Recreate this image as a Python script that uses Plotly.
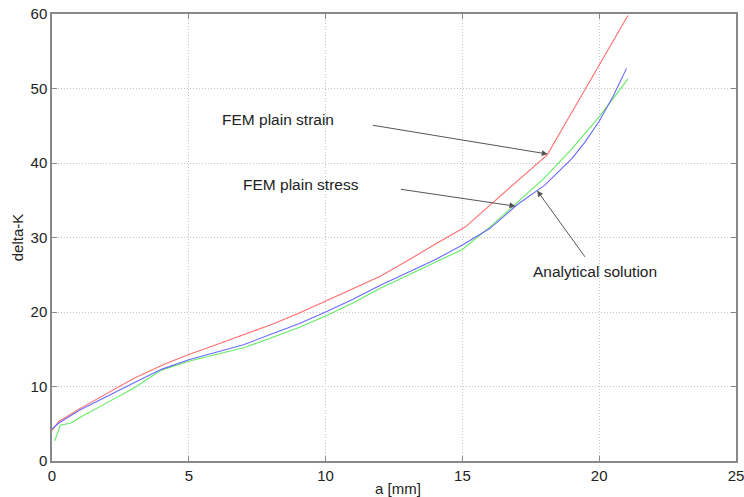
import plotly.graph_objects as go

# FEM plain strain (red)
strain_x = [0, 0.25, 1, 2, 3, 4.1, 5, 6, 7, 8, 9, 10, 11, 12, 13, 14, 15.1, 16, 17, 18.1, 19, 20, 21.05]
strain_y = [4.1, 5.3, 7.0, 9.1, 11.1, 13.0, 14.3, 15.6, 16.9, 18.3, 19.8, 21.5, 23.1, 24.8, 26.9, 29.1, 31.4, 34.3, 37.5, 41.1, 46.8, 53.1, 59.8]

# Analytical solution (blue)
anal_x = [0, 0.25, 1, 2, 3, 4, 5, 6, 7, 8, 9, 10, 11, 12, 13, 14, 15, 16, 17, 18, 19, 19.5, 20, 20.5, 21]
anal_y = [4.3, 5.1, 6.8, 8.7, 10.5, 12.3, 13.6, 14.6, 15.6, 17.0, 18.4, 20.0, 21.7, 23.6, 25.3, 27.0, 29.0, 31.2, 34.4, 37.0, 40.6, 42.9, 45.6, 48.9, 52.7]

# FEM plain stress (green)
stress_x = [0.1, 0.3, 0.7, 1, 2, 3, 4, 5, 6, 7, 8, 9, 10, 11, 12, 13, 14, 15, 16, 17, 18, 19, 19.5, 20, 20.5, 21.05]
stress_y = [2.7, 4.8, 5.1, 5.8, 7.8, 9.8, 12.2, 13.4, 14.3, 15.2, 16.5, 17.9, 19.45, 21.2, 23.2, 24.9, 26.6, 28.4, 31.4, 34.7, 38.0, 41.9, 44.0, 46.2, 48.6, 51.3]

x_ticks = [0, 5, 10, 15, 20, 25]
y_ticks = [0, 10, 20, 30, 40, 50, 60]

labels = [
    ("FEM plain strain", 8.26, 45.8),
    ("FEM plain stress", 9.10, 37.06),
    ("Analytical solution", 19.85, 25.4),
]
# arrows: (tail_x, tail_y, head_x, head_y)
arrows = [
    (11.67, 45.1, 18.12, 41.2),
    (12.7, 36.5, 16.94, 34.2),
    (19.52, 27.2, 17.73, 36.3),
]

fig = go.Figure()
fig.add_trace(go.Scatter(x=strain_x, y=strain_y, mode="lines",
                         line=dict(color="rgb(255,110,110)", width=1.1), name="FEM plain strain"))
fig.add_trace(go.Scatter(x=stress_x, y=stress_y, mode="lines",
                         line=dict(color="rgb(100,235,100)", width=1.1), name="FEM plain stress"))
fig.add_trace(go.Scatter(x=anal_x, y=anal_y, mode="lines",
                         line=dict(color="rgb(105,105,255)", width=1.1), name="Analytical solution"))

font_family = "Liberation Sans, Arial, Helvetica, sans-serif"

for txt, lx, ly in labels:
    fig.add_annotation(x=lx, y=ly, xref="x", yref="y", text=txt, showarrow=False,
                       font=dict(family=font_family, size=15.5, color="#222"))
for tx, ty, hx, hy in arrows:
    fig.add_annotation(x=hx, y=hy, ax=tx, ay=ty, xref="x", yref="y", axref="x", ayref="y",
                       text="", showarrow=True, arrowhead=2, arrowsize=1.2, arrowwidth=1,
                       arrowcolor="#555555")

# axis titles
fig.add_annotation(x=0.506, y=-0.061, xref="paper", yref="paper", text="a [mm]", showarrow=False,
                   xanchor="center", yanchor="middle",
                   font=dict(family=font_family, size=15, color="#222"))
fig.add_annotation(x=-0.05, y=0.50, xref="paper", yref="paper", text="delta-K", showarrow=False,
                   xanchor="center", yanchor="middle",
                   textangle=-90, font=dict(family=font_family, size=15, color="#222"))

axis_common = dict(
    showline=True, linecolor="#888888", linewidth=1.5, mirror="ticks",
    ticks="inside", ticklen=5, tickcolor="#888888",
    showgrid=True, gridcolor="#c4c4c4", griddash="1px,2px", gridwidth=1,
    zeroline=False, automargin=False, ticklabeloverflow="allow",
    tickfont=dict(family=font_family, size=15, color="#222"),
)

fig.update_layout(
    width=744, height=497,
    margin=dict(l=52, r=8, t=14, b=36),
    paper_bgcolor="white", plot_bgcolor="white",
    showlegend=False,
    xaxis=dict(range=[0, 25], tickvals=x_ticks, ticktext=[str(v) for v in x_ticks], **axis_common),
    yaxis=dict(range=[0, 60], tickvals=y_ticks, ticktext=[str(v) for v in y_ticks], **axis_common),
)

fig.write_html("out.html", config={"displayModeBar": False},
               post_script="document.body.style.margin='0px';document.body.style.overflow='hidden';")
